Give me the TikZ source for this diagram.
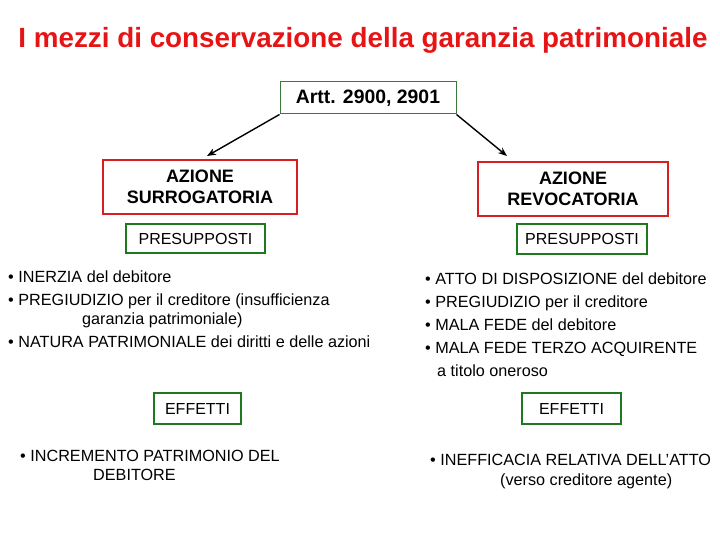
\documentclass[tikz,border=0pt]{standalone}
\usepackage{fontspec}
\setmainfont{Liberation Sans}
\usetikzlibrary{arrows.meta}
\definecolor{tred}{RGB}{230,20,20}
\definecolor{bred}{RGB}{215,30,35}
\definecolor{bgreen}{RGB}{30,120,30}
\definecolor{agreen}{RGB}{60,120,60}
\tikzset{
  redbox/.style={draw=bred,line width=2.6pt,inner sep=0pt,align=center,font=\fontsize{18}{21}\selectfont\bfseries},
  greenbox/.style={draw=bgreen,line width=2.4pt,inner sep=0pt,font=\fontsize{16}{18}\selectfont},
  txt/.style={anchor=base west,inner sep=0pt,font=\fontsize{16.2}{18}\selectfont},
  conn/.style={line width=1.4pt,-{Stealth[length=9pt,width=7pt]}}
}
\begin{document}
\begin{tikzpicture}[x=1pt,y=-1pt]
\path[use as bounding box,fill=white] (0,0) rectangle (720,540);
\node[anchor=base,inner sep=0pt,text=tred,font=\fontsize{27.8}{30}\selectfont\bfseries] (title) at (363,48) {I mezzi di conservazione della garanzia patrimoniale};
\node[draw=agreen,line width=1pt,minimum width=176pt,minimum height=32pt,inner sep=0pt,font=\fontsize{19.4}{22}\selectfont\bfseries] (artt) at (368,98) {Artt. 2900, 2901};
\node[redbox,minimum width=194pt,minimum height=54pt] (surr) at (200,187) {AZIONE\\SURROGATORIA};
\node[redbox,minimum width=190pt,minimum height=54pt] (revo) at (573,189) {AZIONE\\REVOCATORIA};
\coordinate (tipL) at (207,156);
\coordinate (tipR) at (507,156);
\draw[conn] (artt.south west) -- (tipL);
\draw[conn] (artt.south east) -- (tipR);
\node[greenbox,minimum width=139pt,minimum height=29pt] (presL) at (195.5,238.5) {PRESUPPOSTI};
\node[greenbox,minimum width=130pt,minimum height=30pt] (presR) at (582,239) {PRESUPPOSTI};
% left list
\node[txt] (l1) at (8,282) {• INERZIA del debitore};
\node[txt] (l2) at (8,305) {• PREGIUDIZIO per il creditore (insufficienza};
\node[txt] (l3) at (82,324) {garanzia patrimoniale)};
\node[txt] (l4) at (8,347) {• NATURA PATRIMONIALE dei diritti e delle azioni};
% right list
\node[txt] (r1) at (425,284) {• ATTO DI DISPOSIZIONE del debitore};
\node[txt] (r2) at (425,307) {• PREGIUDIZIO per il creditore};
\node[txt] (r3) at (425,330) {• MALA FEDE del debitore};
\node[txt] (r4) at (425,353) {• MALA FEDE TERZO ACQUIRENTE};
\node[txt] (r5) at (437,376) {a titolo oneroso};
% effects
\node[greenbox,minimum width=87pt,minimum height=31pt] (effL) at (197.5,408.5) {EFFETTI};
\node[greenbox,minimum width=99pt,minimum height=31pt] (effR) at (571.5,408.5) {EFFETTI};
\node[txt] (e1) at (20,461) {• INCREMENTO PATRIMONIO DEL};
\node[txt] (e2) at (93,480) {DEBITORE};
\node[txt] (f1) at (430,465) {• INEFFICACIA RELATIVA DELL'ATTO};
\node[txt] (f2) at (500,485) {(verso creditore agente)};
\end{tikzpicture}
\end{document}
